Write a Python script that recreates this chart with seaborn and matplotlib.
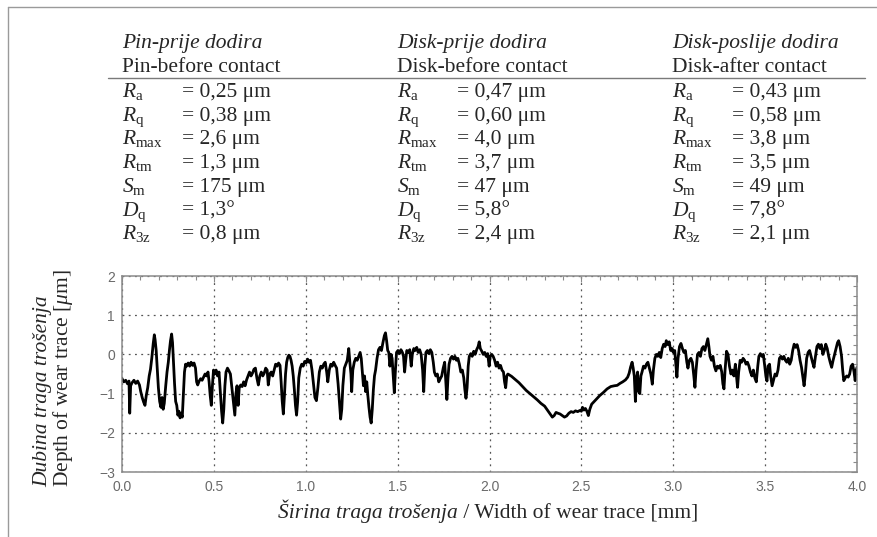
import matplotlib
matplotlib.use("Agg")
import matplotlib.pyplot as plt
import seaborn as sns
import pandas as pd
from matplotlib.lines import Line2D
from matplotlib.ticker import MultipleLocator

# ---------------------------------------------------------------------------
# Data
# ---------------------------------------------------------------------------
width_mm = [
    0.000, 0.010, 0.020, 0.030, 0.038, 0.042, 0.047, 0.055, 0.065, 0.075,
    0.085, 0.095, 0.102, 0.110, 0.118, 0.125, 0.132, 0.140, 0.148, 0.155,
    0.162, 0.170, 0.176, 0.180, 0.186, 0.192, 0.198, 0.205, 0.212, 0.218,
    0.224, 0.230, 0.238, 0.245, 0.252, 0.258, 0.264, 0.270, 0.275, 0.280,
    0.286, 0.292, 0.298, 0.304, 0.310, 0.316, 0.322, 0.328, 0.334, 0.340,
    0.346, 0.352, 0.360, 0.368, 0.376, 0.384, 0.392, 0.400, 0.406, 0.412,
    0.420, 0.428, 0.436, 0.444, 0.452, 0.460, 0.468, 0.474, 0.480, 0.486,
    0.492, 0.498, 0.505, 0.512, 0.520, 0.528, 0.535, 0.542, 0.548, 0.554,
    0.560, 0.566, 0.574, 0.582, 0.590, 0.598, 0.606, 0.614, 0.620, 0.626,
    0.632, 0.638, 0.646, 0.654, 0.662, 0.670, 0.678, 0.686, 0.694, 0.702,
    0.710, 0.718, 0.726, 0.734, 0.742, 0.750, 0.758, 0.766, 0.774, 0.782,
    0.790, 0.796, 0.804, 0.812, 0.820, 0.828, 0.836, 0.844, 0.852, 0.860,
    0.866, 0.872, 0.878, 0.884, 0.890, 0.896, 0.902, 0.908, 0.914, 0.920,
    0.926, 0.932, 0.938, 0.944, 0.950, 0.956, 0.962, 0.970, 0.978, 0.986,
    0.994, 1.002, 1.010, 1.018, 1.026, 1.034, 1.042, 1.050, 1.058, 1.066,
    1.074, 1.082, 1.090, 1.098, 1.106, 1.114, 1.120, 1.128, 1.136, 1.144,
    1.152, 1.160, 1.168, 1.176, 1.184, 1.190, 1.196, 1.202, 1.210, 1.218,
    1.226, 1.234, 1.240, 1.246, 1.250, 1.256, 1.264, 1.272, 1.280, 1.288,
    1.296, 1.302, 1.308, 1.314, 1.320, 1.326, 1.332, 1.338, 1.344, 1.350,
    1.356, 1.362, 1.368, 1.374, 1.380, 1.388, 1.396, 1.404, 1.412, 1.420,
    1.428, 1.434, 1.440, 1.446, 1.452, 1.458, 1.464, 1.470, 1.476, 1.482,
    1.488, 1.494, 1.502, 1.510, 1.518, 1.526, 1.532, 1.538, 1.544, 1.550,
    1.558, 1.566, 1.574, 1.580, 1.588, 1.596, 1.604, 1.612, 1.620, 1.628,
    1.636, 1.642, 1.648, 1.654, 1.662, 1.670, 1.678, 1.686, 1.694, 1.700,
    1.708, 1.716, 1.724, 1.732, 1.740, 1.748, 1.756, 1.762, 1.768, 1.774,
    1.780, 1.788, 1.796, 1.804, 1.812, 1.820, 1.828, 1.836, 1.844, 1.852,
    1.860, 1.866, 1.872, 1.878, 1.884, 1.890, 1.898, 1.906, 1.914, 1.922,
    1.930, 1.938, 1.944, 1.950, 1.958, 1.966, 1.974, 1.982, 1.990, 1.998,
    2.004, 2.012, 2.020, 2.028, 2.036, 2.044, 2.052, 2.060, 2.068, 2.076,
    2.082, 2.088, 2.094, 2.100, 2.120, 2.140, 2.160, 2.180, 2.200, 2.220,
    2.240, 2.260, 2.280, 2.300, 2.315, 2.330, 2.342, 2.352, 2.362, 2.372,
    2.384, 2.396, 2.408, 2.420, 2.432, 2.444, 2.456, 2.468, 2.480, 2.492,
    2.500, 2.506, 2.514, 2.522, 2.530, 2.538, 2.546, 2.556, 2.570, 2.586,
    2.600, 2.620, 2.640, 2.660, 2.680, 2.695, 2.710, 2.725, 2.740, 2.752,
    2.760, 2.768, 2.776, 2.782, 2.788, 2.794, 2.800, 2.806, 2.812, 2.818,
    2.824, 2.830, 2.838, 2.846, 2.854, 2.862, 2.870, 2.878, 2.886, 2.892,
    2.900, 2.908, 2.916, 2.924, 2.932, 2.940, 2.948, 2.956, 2.962, 2.970,
    2.978, 2.986, 2.994, 3.000, 3.008, 3.014, 3.020, 3.026, 3.034, 3.042,
    3.050, 3.058, 3.066, 3.074, 3.080, 3.088, 3.096, 3.104, 3.112, 3.118,
    3.124, 3.132, 3.140, 3.148, 3.156, 3.164, 3.172, 3.180, 3.188, 3.194,
    3.200, 3.208, 3.216, 3.224, 3.232, 3.240, 3.248, 3.256, 3.264, 3.270,
    3.276, 3.282, 3.290, 3.298, 3.306, 3.314, 3.322, 3.330, 3.338, 3.344,
    3.350, 3.356, 3.364, 3.372, 3.380, 3.388, 3.396, 3.404, 3.412, 3.420,
    3.428, 3.436, 3.444, 3.452, 3.460, 3.466, 3.474, 3.482, 3.490, 3.498,
    3.504, 3.510, 3.516, 3.524, 3.530, 3.538, 3.546, 3.554, 3.562, 3.570,
    3.578, 3.586, 3.594, 3.602, 3.610, 3.618, 3.626, 3.634, 3.642, 3.650,
    3.658, 3.666, 3.674, 3.682, 3.690, 3.698, 3.706, 3.712, 3.718, 3.726,
    3.734, 3.742, 3.750, 3.758, 3.766, 3.774, 3.782, 3.790, 3.798, 3.806,
    3.814, 3.822, 3.830, 3.838, 3.846, 3.854, 3.862, 3.870, 3.878, 3.886,
    3.894, 3.900, 3.908, 3.916, 3.922, 3.928, 3.936, 3.944, 3.952, 3.960,
    3.968, 3.976, 3.984, 3.990, 3.996, 4.000,
]

depth_um = [
    -0.62, -0.70, -0.66, -0.75, -0.68, -1.50, -0.80, -0.72, -0.66, -0.74,
    -0.68, -0.78, -0.95, -1.10, -1.22, -1.30, -1.05, -0.85, -0.55, -0.38,
    -0.10, 0.28, 0.50, 0.38, 0.10, -0.40, -0.85, -1.20, -1.35, -1.10,
    -1.40, -1.25, -0.80, -0.45, -0.20, 0.10, 0.35, 0.52, 0.30, -0.20,
    -0.75, -1.20, -1.30, -1.55, -1.45, -1.62, -1.50, -1.60, -1.00, -0.45,
    -0.25, -0.30, -0.22, -0.30, -0.20, -0.28, -0.22, -0.35, -0.70, -0.78,
    -0.68, -0.62, -0.66, -0.58, -0.50, -0.55, -0.45, -0.70, -1.05, -1.30,
    -0.80, -0.40, -0.50, -0.40, -0.55, -0.45, -0.95, -1.45, -1.75, -1.40,
    -0.80, -0.45, -0.35, -0.42, -0.50, -0.85, -1.20, -1.55, -1.00, -0.80,
    -1.30, -0.85, -0.78, -0.82, -0.70, -0.80, -0.65, -0.55, -0.45, -0.55,
    -0.48, -0.38, -0.35, -0.60, -0.78, -0.55, -0.45, -0.55, -0.48, -0.35,
    -0.40, -0.78, -0.50, -0.45, -0.55, -0.40, -0.25, -0.30, -0.22, -0.28,
    -0.70, -1.20, -1.52, -1.05, -0.50, -0.20, -0.08, -0.02, -0.05, -0.15,
    -0.30, -0.55, -0.90, -1.30, -1.55, -1.20, -0.60, -0.35, -0.25, -0.30,
    -0.18, -0.22, -0.12, -0.20, -0.15, -0.40, -0.75, -1.10, -1.18, -0.85,
    -0.45, -0.30, -0.35, -0.25, -0.20, -0.45, -0.70, -0.40, -0.25, -0.30,
    -0.20, -0.28, -0.35, -0.75, -1.25, -1.65, -1.40, -0.80, -0.35, -0.25,
    -0.15, 0.15, -0.20, -0.50, -0.95, -0.40, -0.20, -0.10, -0.15, -0.05,
    0.05, -0.10, -0.45, -0.80, -0.55, -0.95, -0.70, -1.05, -1.35, -1.60,
    -1.75, -1.40, -0.90, -0.55, -0.40, -0.10, 0.12, 0.18, 0.10, 0.30,
    0.48, 0.55, 0.35, 0.10, 0.05, -0.30, 0.00, -0.10, -0.55, -0.98,
    -0.40, 0.05, 0.10, 0.02, 0.12, 0.05, -0.05, -0.45, -0.15, 0.10,
    0.05, 0.12, -0.30, 0.00, 0.15, 0.10, 0.18, 0.05, 0.12, 0.00,
    -0.40, -0.95, -0.30, 0.05, 0.10, 0.02, 0.12, 0.05, -0.20, -0.45,
    -0.55, -0.50, -0.70, -0.62, -0.55, -0.35, -0.20, -0.70, -1.15, -0.60,
    -0.25, -0.10, -0.05, -0.12, -0.05, -0.15, -0.10, -0.25, -0.45, -0.40,
    -0.60, -0.90, -1.12, -0.85, -0.30, -0.05, 0.02, -0.05, 0.08, 0.00,
    0.12, 0.20, 0.32, 0.15, 0.08, 0.00, 0.05, -0.05, 0.02, -0.30,
    -0.05, 0.00, -0.05, -0.15, -0.30, -0.20, -0.35, -0.28, -0.40, -0.45,
    -0.70, -0.85, -0.55, -0.50, -0.56, -0.64, -0.72, -0.82, -0.92, -1.00,
    -1.08, -1.16, -1.25, -1.32, -1.42, -1.52, -1.60, -1.56, -1.48, -1.50,
    -1.52, -1.56, -1.60, -1.57, -1.50, -1.46, -1.48, -1.44, -1.46, -1.43,
    -1.45, -1.35, -1.42, -1.38, -1.45, -1.56, -1.40, -1.27, -1.20, -1.12,
    -1.05, -0.97, -0.88, -0.82, -0.80, -0.79, -0.74, -0.70, -0.65, -0.58,
    -0.48, -0.32, -0.20, -0.35, -0.55, -1.20, -0.65, -0.45, -0.95, -1.00,
    -0.55, -0.45, -0.30, -0.35, -0.25, -0.20, -0.35, -0.50, -0.76, -0.40,
    -0.10, 0.00, -0.05, 0.05, -0.08, 0.15, 0.26, 0.20, 0.35, 0.25,
    0.32, 0.10, 0.15, 0.05, 0.10, -0.25, -0.58, -0.10, 0.20, 0.28,
    0.15, 0.05, 0.10, -0.20, -0.35, -0.15, -0.10, -0.20, -0.55, -0.84,
    -0.40, 0.00, 0.05, -0.05, 0.15, 0.20, 0.10, 0.25, 0.40, 0.20,
    -0.05, -0.15, -0.05, -0.30, -0.42, -0.30, -0.35, -0.28, -0.45, -0.75,
    -0.88, -0.40, 0.08, 0.00, -0.30, -0.50, -0.40, -0.55, -0.25, -0.55,
    -0.84, -0.45, -0.15, -0.20, -0.10, -0.15, -0.25, -0.20, -0.30, -0.45,
    -0.55, -0.40, -0.60, -0.70, -0.30, -0.05, 0.02, -0.05, 0.00, -0.30,
    -0.55, -0.68, -0.30, -0.25, -0.55, -0.80, -0.65, -0.50, -0.55, -0.40,
    -0.10, -0.05, -0.12, -0.05, -0.15, -0.20, -0.10, -0.25, -0.15, 0.10,
    0.26, 0.18, 0.25, 0.10, -0.15, -0.33, -0.60, -0.80, -0.55, -0.10,
    0.05, 0.10, -0.05, -0.20, -0.33, -0.05, 0.20, 0.26, 0.15, 0.25,
    0.00, 0.10, 0.26, 0.15, -0.05, -0.20, -0.33, -0.15, 0.00, 0.15,
    0.30, 0.35, 0.20, -0.05, -0.40, -0.67, -0.60, -0.55, -0.58, -0.50,
    -0.30, -0.25, -0.45, -0.67, -0.40, -0.33,
]

x_ticks = [0.0, 0.5, 1.0, 1.5, 2.0, 2.5, 3.0, 3.5, 4.0]
x_tick_labels = ["0.0", "0.5", "1.0", "1.5", "2.0", "2.5", "3.0", "3.5", "4.0"]
y_ticks = [-3, -2, -1, 0, 1, 2]
y_tick_labels = ["\u22123", "\u22122", "\u22121", "0", "1", "2"]

# roughness table
col_titles_hr = ["Pin-prije dodira", "Disk-prije dodira", "Disk-poslije dodira"]
col_titles_en = ["Pin-before contact", "Disk-before contact", "Disk-after contact"]
param_names = [r"$R_\mathrm{a}$", r"$R_\mathrm{q}$", r"$R_\mathrm{max}$",
               r"$R_\mathrm{tm}$", r"$S_\mathrm{m}$", r"$D_\mathrm{q}$",
               r"$R_\mathrm{3z}$"]
pin_before = ["= 0,25 \u03bcm", "= 0,38 \u03bcm", "= 2,6 \u03bcm", "= 1,3 \u03bcm",
              "= 175 \u03bcm", "= 1,3\u00b0", "= 0,8 \u03bcm"]
disk_before = ["= 0,47 \u03bcm", "= 0,60 \u03bcm", "= 4,0 \u03bcm", "= 3,7 \u03bcm",
               "= 47 \u03bcm", "= 5,8\u00b0", "= 2,4 \u03bcm"]
disk_after = ["= 0,43 \u03bcm", "= 0,58 \u03bcm", "= 3,8 \u03bcm", "= 3,5 \u03bcm",
              "= 49 \u03bcm", "= 7,8\u00b0", "= 2,1 \u03bcm"]

df = pd.DataFrame({"x": width_mm, "y": depth_um})

# ---------------------------------------------------------------------------
# Style
# ---------------------------------------------------------------------------
sns.set_style("white")
plt.rcParams["font.family"] = ["Liberation Sans", "DejaVu Sans"]
plt.rcParams["mathtext.fontset"] = "custom"
plt.rcParams["mathtext.rm"] = "Liberation Serif"
plt.rcParams["mathtext.it"] = "Liberation Serif:italic"
plt.rcParams["mathtext.bf"] = "Liberation Serif:bold"

SERIF = ["Liberation Serif", "DejaVu Serif"]
FS = 15.5
W, H = 877, 537

fig = plt.figure(figsize=(W / 100, H / 100), dpi=100)
fig.patch.set_facecolor("white")


def fx(px):
    return px / W


def fy(py):
    return 1 - py / H


# outer frame (top + left edge of the page box)
fig.add_artist(Line2D([fx(8), 1.0], [fy(7), fy(7)], color="#9a9a9a", lw=1.0))
fig.add_artist(Line2D([fx(8), fx(8)], [fy(7), 0.0], color="#9a9a9a", lw=1.0))

# ---------------------------------------------------------------------------
# Table at the top
# ---------------------------------------------------------------------------
col_x = [122, 397, 672]
val_dx = 60
row_y = [96.7, 120.5, 144.3, 168.1, 191.9, 215.7, 239.5]
columns = [pin_before, disk_before, disk_after]

for cx, t_hr, t_en, vals in zip(col_x, col_titles_hr, col_titles_en, columns):
    fig.text(fx(cx), fy(48.3), t_hr, family=SERIF, style="italic", fontsize=FS,
             va="baseline", ha="left")
    fig.text(fx(cx), fy(71.7), t_en, family=SERIF, fontsize=FS,
             va="baseline", ha="left")
    for ry, name, val in zip(row_y, param_names, vals):
        fig.text(fx(cx), fy(ry), name, fontsize=FS, va="baseline", ha="left")
        fig.text(fx(cx + val_dx), fy(ry), val, family=SERIF, fontsize=FS,
                 va="baseline", ha="left")

fig.add_artist(Line2D([fx(108), fx(865)], [fy(78), fy(78)], color="#7a7a7a", lw=1.0))

# ---------------------------------------------------------------------------
# Profile plot
# ---------------------------------------------------------------------------
ax = fig.add_axes([fx(122), fy(472), fx(857) - fx(122), fy(276) - fy(472)])
sns.lineplot(data=df, x="x", y="y", ax=ax, color="black", linewidth=2.0,
             estimator=None, sort=False)

ax.set_xlim(0, 4)
ax.set_ylim(-3, 2)
ax.set_xticks(x_ticks)
ax.set_xticklabels(x_tick_labels)
ax.set_yticks(y_ticks)
ax.set_yticklabels(y_tick_labels)
ax.xaxis.set_minor_locator(MultipleLocator(0.1))
ax.yaxis.set_minor_locator(MultipleLocator(0.25))
ax.tick_params(which="both", direction="in", top=True, right=True,
               color="#8a8a8a", width=0.8)
ax.tick_params(which="major", length=4)
ax.tick_params(which="minor", length=3)
ax.tick_params(axis="x", labelsize=10, labelcolor="#6a6a6a", pad=6)
ax.tick_params(axis="y", labelsize=10, labelcolor="#6a6a6a", pad=5)
ax.set_xlabel("")
ax.set_ylabel("")

for sp in ax.spines.values():
    sp.set_color("#8a8a8a")
    sp.set_linewidth(1.1)

ax.grid(True, which="major", color="#555555", linestyle=(0, (1.5, 3.5)),
        linewidth=0.9)
ax.set_axisbelow(True)

# y-axis label: two rotated lines
fig.text(fx(43), fy(487), "Dubina traga tro\u0161enja", family=SERIF,
         style="italic", fontsize=FS, rotation=90, ha="center", va="bottom")
fig.text(fx(63), fy(487), r"Depth of wear trace [$\mu$m]", family=SERIF,
         fontsize=FS, rotation=90, ha="center", va="bottom")

# x-axis label: italic part + regular part
renderer = fig.canvas.get_renderer()
t1 = fig.text(fx(278), fy(518.3), "\u0160irina traga tro\u0161enja", family=SERIF,
              style="italic", fontsize=FS, ha="left", va="baseline")
ext = t1.get_window_extent(renderer=renderer)
fig.text(ext.x1 / W, fy(518.3), " / Width of wear trace [mm]", family=SERIF,
         fontsize=FS, ha="left", va="baseline")

fig.savefig("out.png", dpi=100, facecolor="white")
